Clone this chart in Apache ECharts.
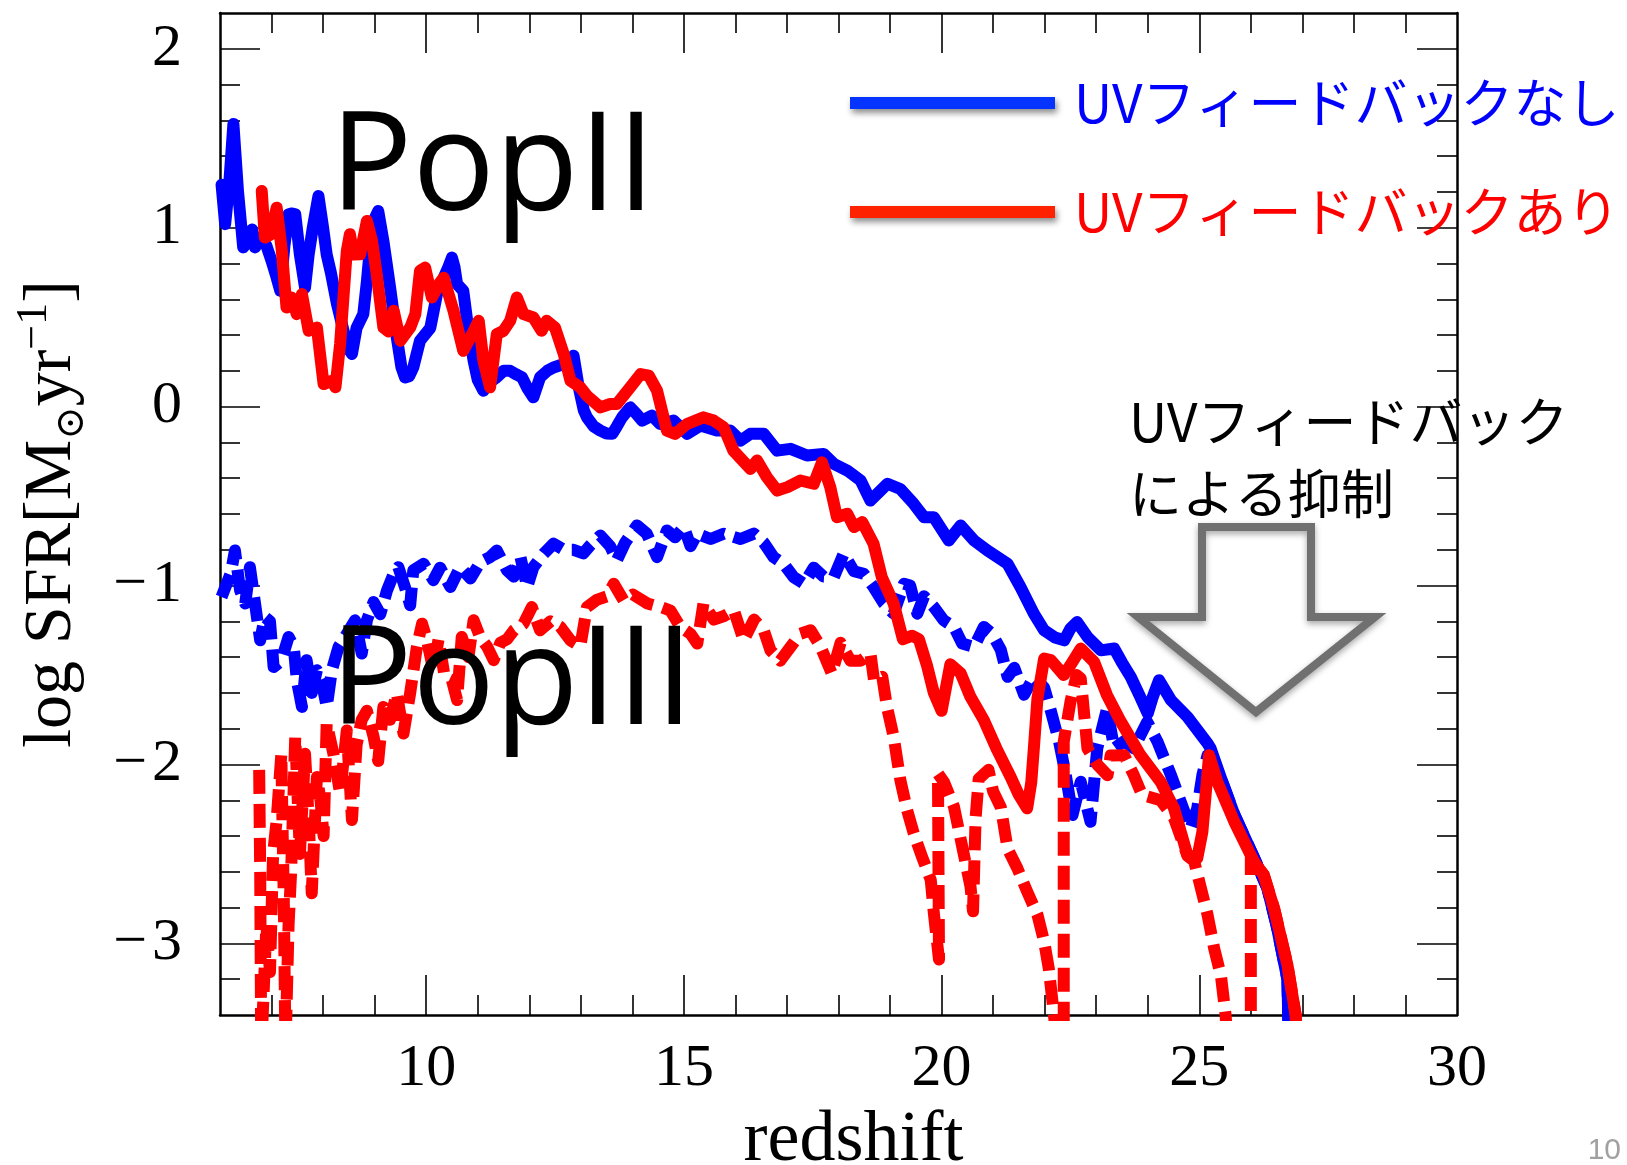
<!DOCTYPE html>
<html><head><meta charset="utf-8">
<script src="https://cdn.jsdelivr.net/npm/echarts@6/dist/echarts.min.js"></script>
<style>html,body{margin:0;padding:0;background:#fff}#c{width:1627px;height:1165px}</style>
</head><body><div id="c"></div>
<script>
// ---- data: [redshift, log SFR] ----
const popII_noUV = [[6.03,1.24],[6.10,1.02],[6.18,1.25],[6.26,1.58],[6.35,1.2],[6.45,0.89],[6.55,0.93],[6.62,0.99],[6.68,0.89],[6.78,0.945],[6.9,0.9],[7.0,0.815],[7.1,0.72],[7.17,0.647],[7.25,0.9],[7.33,1.075],[7.40,1.08],[7.46,1.075],[7.55,0.85],[7.65,0.666],[7.72,0.85],[7.80,1.0],[7.91,1.177],[8.0,1.0],[8.07,0.85],[8.15,0.75],[8.27,0.573],[8.40,0.42],[8.50,0.32],[8.56,0.294],[8.65,0.44],[8.78,0.517],[8.85,0.7],[8.91,0.889],[9.0,1.05],[9.07,1.094],[9.17,0.926],[9.30,0.666],[9.43,0.387],[9.52,0.22],[9.59,0.163],[9.67,0.17],[9.75,0.219],[9.88,0.368],[9.97,0.40],[10.08,0.44],[10.21,0.629],[10.34,0.72],[10.43,0.78],[10.50,0.833],[10.55,0.78],[10.60,0.685],[10.72,0.647],[10.80,0.47],[10.92,0.257],[11.0,0.15],[11.11,0.089],[11.2,0.13],[11.37,0.164],[11.50,0.2],[11.63,0.2],[11.75,0.18],[11.86,0.164],[11.97,0.1],[12.08,0.052],[12.21,0.164],[12.35,0.2],[12.47,0.219],[12.67,0.238],[12.80,0.26],[12.86,0.285],[12.96,0.108],[13.06,-0.022],[13.12,-0.06],[13.25,-0.11],[13.38,-0.134],[13.50,-0.15],[13.61,-0.152],[13.70,-0.11],[13.80,-0.06],[13.96,-0.004],[14.08,-0.04],[14.19,-0.078],[14.38,-0.05],[14.54,-0.097],[14.80,-0.078],[15.06,-0.152],[15.32,-0.106],[15.64,-0.134],[15.90,-0.134],[16.10,-0.19],[16.29,-0.152],[16.55,-0.152],[16.81,-0.246],[17.07,-0.236],[17.39,-0.273],[17.71,-0.264],[17.91,-0.32],[18.17,-0.357],[18.43,-0.413],[18.62,-0.525],[18.95,-0.431],[19.20,-0.46],[19.46,-0.543],[19.66,-0.618],[19.85,-0.618],[20.14,-0.748],[20.37,-0.664],[20.63,-0.748],[20.89,-0.804],[21.28,-0.878],[21.53,-1.008],[21.79,-1.157],[21.99,-1.25],[22.20,-1.29],[22.38,-1.306],[22.50,-1.24],[22.63,-1.204],[22.83,-1.287],[23.09,-1.362],[23.35,-1.352],[23.50,-1.43],[23.67,-1.51],[23.85,-1.62],[24.0,-1.715],[24.10,-1.62],[24.22,-1.529],[24.45,-1.64],[24.77,-1.734],[25.16,-1.882],[25.22,-1.91],[25.45,-2.1],[25.68,-2.28],[26.06,-2.52],[26.32,-2.69],[26.50,-2.9],[26.71,-3.2],[26.74,-3.6]];

const popII_UV = [[6.81,1.205],[6.87,0.945],[6.97,0.96],[7.10,1.112],[7.20,0.87],[7.29,0.554],[7.39,0.61],[7.49,0.517],[7.59,0.629],[7.72,0.424],[7.88,0.442],[8.01,0.126],[8.17,0.145],[8.24,0.108],[8.33,0.35],[8.46,0.87],[8.52,0.964],[8.59,0.85],[8.72,0.852],[8.85,1.038],[8.95,0.926],[9.04,0.74],[9.17,0.442],[9.27,0.42],[9.37,0.536],[9.50,0.368],[9.69,0.442],[9.79,0.517],[9.88,0.759],[9.98,0.777],[10.11,0.61],[10.27,0.694],[10.34,0.72],[10.53,0.536],[10.72,0.312],[10.89,0.405],[11.02,0.48],[11.11,0.257],[11.24,0.108],[11.37,0.405],[11.50,0.424],[11.63,0.48],[11.76,0.61],[11.89,0.517],[12.08,0.498],[12.24,0.424],[12.34,0.48],[12.50,0.442],[12.67,0.294],[12.80,0.145],[12.99,0.108],[13.12,0.061],[13.38,-0.004],[13.57,0.015],[13.70,0.015],[13.96,0.108],[14.16,0.182],[14.32,0.173],[14.48,0.089],[14.67,-0.134],[14.83,-0.152],[15.06,-0.097],[15.38,-0.06],[15.58,-0.078],[15.77,-0.115],[15.96,-0.246],[16.29,-0.348],[16.42,-0.301],[16.61,-0.394],[16.81,-0.469],[17.01,-0.45],[17.26,-0.413],[17.52,-0.431],[17.68,-0.311],[17.84,-0.45],[17.97,-0.618],[18.17,-0.599],[18.30,-0.673],[18.46,-0.645],[18.68,-0.766],[18.84,-0.953],[19.07,-1.10],[19.25,-1.30],[19.43,-1.28],[19.56,-1.30],[19.72,-1.45],[19.85,-1.60],[20.0,-1.70],[20.17,-1.44],[20.37,-1.49],[20.56,-1.622],[20.82,-1.752],[21.08,-1.92],[21.34,-2.07],[21.50,-2.17],[21.66,-2.245],[21.74,-2.1],[21.79,-1.91],[21.86,-1.631],[21.99,-1.408],[22.12,-1.417],[22.37,-1.50],[22.50,-1.445],[22.70,-1.352],[22.96,-1.427],[23.21,-1.613],[23.48,-1.762],[23.86,-1.948],[24.25,-2.097],[24.51,-2.245],[24.77,-2.506],[24.96,-2.524],[25.06,-2.376],[25.19,-1.948],[25.35,-2.097],[25.68,-2.32],[26.06,-2.543],[26.25,-2.617],[26.45,-2.803],[26.71,-3.12],[26.87,-3.4],[26.9,-3.6]];

const popIII_noUV = [[6.03,-1.064],[6.13,-0.99],[6.21,-0.93],[6.29,-0.804],[6.39,-1.027],[6.49,-1.10],[6.58,-0.897],[6.68,-1.101],[6.78,-1.306],[6.87,-1.176],[6.97,-1.20],[7.04,-1.455],[7.19,-1.42],[7.33,-1.287],[7.43,-1.34],[7.49,-1.529],[7.59,-1.678],[7.68,-1.417],[7.78,-1.60],[7.88,-1.473],[7.97,-1.53],[8.07,-1.678],[8.17,-1.473],[8.30,-1.343],[8.46,-1.27],[8.62,-1.194],[8.75,-1.38],[8.85,-1.194],[8.98,-1.092],[9.11,-1.16],[9.24,-1.027],[9.37,-0.934],[9.46,-0.897],[9.59,-1.01],[9.69,-1.11],[9.75,-0.915],[9.95,-0.878],[10.14,-0.97],[10.27,-0.90],[10.47,-1.008],[10.66,-0.897],[10.86,-0.96],[11.05,-0.869],[11.24,-0.841],[11.37,-0.804],[11.57,-0.915],[11.70,-0.95],[11.83,-0.841],[11.96,-1.008],[12.08,-0.897],[12.28,-0.822],[12.47,-0.766],[12.67,-0.80],[12.86,-0.80],[13.05,-0.82],[13.18,-0.776],[13.38,-0.72],[13.57,-0.78],[13.70,-0.859],[13.86,-0.76],[14.09,-0.664],[14.28,-0.71],[14.48,-0.841],[14.67,-0.692],[14.83,-0.73],[15.00,-0.673],[15.13,-0.78],[15.26,-0.71],[15.52,-0.74],[15.77,-0.71],[16.10,-0.74],[16.36,-0.71],[16.55,-0.76],[16.74,-0.841],[16.94,-0.88],[17.13,-0.953],[17.33,-0.99],[17.52,-0.90],[17.71,-0.95],[17.91,-0.953],[18.10,-0.822],[18.30,-0.92],[18.49,-0.934],[18.68,-1.008],[18.88,-1.10],[19.07,-1.157],[19.27,-0.99],[19.39,-1.0],[19.53,-1.157],[19.66,-1.06],[19.85,-1.12],[20.04,-1.194],[20.24,-1.231],[20.40,-1.324],[20.63,-1.343],[20.82,-1.231],[20.98,-1.27],[21.15,-1.36],[21.28,-1.51],[21.41,-1.46],[21.60,-1.61],[21.79,-1.51],[21.99,-1.57],[22.12,-1.70],[22.28,-1.873],[22.41,-2.059],[22.54,-2.282],[22.70,-2.097],[22.89,-2.32],[23.02,-1.91],[23.21,-1.687],[23.35,-1.91],[23.54,-1.87],[23.73,-1.91],[23.99,-1.762],[24.19,-1.873],[24.45,-2.059],[24.64,-2.208],[24.83,-2.357],[24.96,-2.245],[25.06,-2.059],[25.16,-1.948],[25.45,-2.1],[25.68,-2.28],[26.06,-2.52],[26.32,-2.69],[26.50,-2.9],[26.71,-3.2],[26.74,-3.6]];

const popIII_UV = [[6.76,-2.03],[6.78,-2.6],[6.80,-3.6],[6.90,-2.9],[6.97,-3.16],[7.03,-2.5],[7.10,-2.31],[7.19,-1.94],[7.24,-2.8],[7.27,-3.6],[7.33,-2.9],[7.38,-2.6],[7.46,-1.845],[7.55,-2.50],[7.65,-1.94],[7.72,-2.3],[7.78,-2.72],[7.88,-2.07],[7.95,-2.2],[8.01,-2.40],[8.07,-1.77],[8.20,-1.94],[8.33,-2.16],[8.46,-1.81],[8.56,-2.31],[8.65,-1.89],[8.75,-1.75],[8.85,-1.70],[8.98,-1.845],[9.07,-1.98],[9.17,-1.678],[9.30,-1.75],[9.43,-1.603],[9.56,-1.827],[9.69,-1.60],[9.82,-1.343],[9.92,-1.213],[10.01,-1.30],[10.14,-1.473],[10.24,-1.30],[10.36,-1.51],[10.50,-1.529],[10.60,-1.64],[10.69,-1.287],[10.82,-1.40],[10.92,-1.194],[11.05,-1.29],[11.18,-1.34],[11.31,-1.417],[11.44,-1.32],[11.57,-1.30],[11.70,-1.25],[11.89,-1.213],[12.05,-1.12],[12.21,-1.25],[12.41,-1.20],[12.60,-1.23],[12.80,-1.306],[12.99,-1.34],[13.12,-1.12],[13.31,-1.08],[13.51,-1.06],[13.64,-0.99],[13.83,-1.083],[14.01,-1.05],[14.29,-1.10],[14.55,-1.12],[14.74,-1.14],[14.93,-1.231],[15.13,-1.27],[15.26,-1.324],[15.38,-1.10],[15.58,-1.19],[15.78,-1.17],[15.97,-1.138],[16.16,-1.306],[16.36,-1.19],[16.55,-1.25],[16.68,-1.362],[16.87,-1.42],[17.07,-1.343],[17.26,-1.269],[17.46,-1.25],[17.65,-1.34],[17.87,-1.492],[18.04,-1.32],[18.23,-1.42],[18.43,-1.42],[18.62,-1.38],[18.69,-1.53],[18.85,-1.51],[18.94,-1.678],[19.07,-1.845],[19.20,-2.087],[19.33,-2.254],[19.46,-2.385],[19.62,-2.515],[19.79,-2.645],[19.85,-2.831],[19.95,-3.09],[19.93,-2.05],[20.05,-2.10],[20.24,-2.236],[20.43,-2.50],[20.56,-2.68],[20.61,-2.82],[20.66,-2.3],[20.72,-2.08],[20.91,-2.03],[21.0,-2.15],[21.15,-2.24],[21.28,-2.47],[21.47,-2.58],[21.66,-2.71],[21.86,-2.84],[21.99,-2.99],[22.08,-3.14],[22.18,-3.4],[22.25,-3.6],[22.37,-3.6],[22.37,-1.873],[22.50,-1.65],[22.62,-1.50],[22.70,-1.52],[22.83,-1.91],[23.02,-2.0],[23.22,-2.06],[23.28,-1.95],[23.54,-1.948],[23.73,-2.06],[23.89,-2.17],[24.25,-2.2],[24.51,-2.3],[24.77,-2.51],[24.90,-2.54],[25.03,-2.69],[25.16,-2.84],[25.29,-3.03],[25.42,-3.18],[25.51,-3.4],[25.56,-3.6],[26.0,-3.6],[26.0,-2.52],[26.25,-2.617],[26.45,-2.803],[26.71,-3.12],[26.87,-3.4],[26.9,-3.6]];

// ---- axis ticks / labels ----
const xTickLabels = [10, 15, 20, 25, 30];
const xMajorTicks = [10, 15, 20, 25];
const xMinorTicks = [7,8,9,11,12,13,14,16,17,18,19,21,22,23,24,26,27,28,29];
const yTickLabels = [-3, -2, -1, 0, 1, 2];
const yMinorTicks = [-3.2,-2.8,-2.6,-2.4,-2.2,-1.8,-1.6,-1.4,-1.2,-0.8,-0.6,-0.4,-0.2,0.2,0.4,0.6,0.8,1.2,1.4,1.6,1.8];
const legendNames = ['UVフィードバックなし', 'UVフィードバックあり'];

const X_MIN = 6, X_MAX = 30, Y_MIN = -3.4, Y_MAX = 2.2;
const serif = '"Liberation Serif", "DejaVu Serif", serif';
const jp = '"Noto Sans CJK JP", "Noto Sans", sans-serif';

function xAx(pos, ticks, len, showLine, labels) {
  return {
    type: 'value', min: X_MIN, max: X_MAX, position: pos, gridIndex: 0,
    axisLine: { show: showLine, onZero: false, lineStyle: { color: '#000', width: 2.5 } },
    axisTick: { show: true, inside: true, length: len, customValues: ticks, lineStyle: { color: '#000', width: 1.6 } },
    axisLabel: labels ? { show: true, customValues: labels, fontSize: 60, fontFamily: serif, color: '#000', margin: 24, lineHeight: 60 } : { show: false },
    splitLine: { show: false }, minorTick: { show: false }
  };
}
function yAx(pos, ticks, len, showLine, labels) {
  return {
    type: 'value', min: Y_MIN, max: Y_MAX, position: pos, gridIndex: 0,
    axisLine: { show: showLine, onZero: false, lineStyle: { color: '#000', width: 2.5 } },
    axisTick: { show: true, inside: true, length: len, customValues: ticks, lineStyle: { color: '#000', width: 1.6 } },
    axisLabel: labels ? { show: true, customValues: labels, fontSize: 60, fontFamily: serif, color: '#000', margin: 38,
      formatter: v => (v < 0 ? '\u2212\u200a' + (-v) : String(v)) } : { show: false },
    splitLine: { show: false }, minorTick: { show: false }
  };
}

const xMain = xAx('bottom', xMajorTicks, 40, true, xTickLabels);
xMain.name = 'redshift';
xMain.nameLocation = 'middle';
xMain.nameGap = 90;
xMain.nameTextStyle = { fontSize: 72, fontFamily: serif, color: '#000', lineHeight: 72, padding: [0, 0, 0, 30] };

const yMain = yAx('left', yTickLabels, 40, true, yTickLabels);
yMain.name = '{a|log SFR[M}{s|\u2299}{a|yr}{p|\u22121}{a|]}';
yMain.nameLocation = 'middle';
yMain.nameGap = 128;
yMain.nameTextStyle = {
  color: '#000',
  rich: {
    a: { fontSize: 68, fontFamily: serif, color: '#000', lineHeight: 80, verticalAlign: 'middle' },
    s: { fontSize: 40, fontFamily: serif, color: '#000', lineHeight: 54, verticalAlign: 'bottom' },
    p: { fontSize: 44, fontFamily: serif, color: '#000', lineHeight: 28, verticalAlign: 'top' }
  }
};

const base = { type: 'line', showSymbol: false, symbol: 'none', animation: false, xAxisIndex: 0, yAxisIndex: 0, clip: true };

const chart = echarts.init(document.getElementById('c'), null, { renderer: 'canvas' });
chart.setOption({
  backgroundColor: '#fff',
  animation: false,
  grid: { left: 220, top: 13, width: 1237, height: 1002, outerBoundsMode: 'none', containLabel: false },
  xAxis: [
    xMain,
    xAx('bottom', xMinorTicks, 20, false, null),
    xAx('top', xMajorTicks, 40, true, null),
    xAx('top', xMinorTicks, 20, false, null)
  ],
  yAxis: [
    yMain,
    yAx('left', yMinorTicks, 20, false, null),
    yAx('right', yTickLabels, 40, true, null),
    yAx('right', yMinorTicks, 20, false, null)
  ],
  legend: {
    show: true, orient: 'vertical', left: 845, top: 68, itemWidth: 205, itemHeight: 12, itemGap: 49,
    icon: 'rect', selectedMode: false,
    textStyle: { fontSize: 53, fontFamily: jp, lineHeight: 60, padding: [0, 0, 0, 14] },
    data: [
      { name: legendNames[0], itemStyle: { color: '#0533ff', shadowBlur: 6, shadowColor: 'rgba(0,0,0,0.45)', shadowOffsetX: 2, shadowOffsetY: 4 }, textStyle: { color: '#0000ff' } },
      { name: legendNames[1], itemStyle: { color: '#ff2200', shadowBlur: 6, shadowColor: 'rgba(0,0,0,0.45)', shadowOffsetX: 2, shadowOffsetY: 4 }, textStyle: { color: '#ff0000' } }
    ]
  },
  series: [
    Object.assign({}, base, { name: 'PopIII ' + legendNames[0], data: popIII_noUV, lineStyle: { color: '#0000ff', width: 12, type: [24, 10], cap: 'butt', join: 'round' }, itemStyle: { color: '#0000ff' } }),
    Object.assign({}, base, { name: legendNames[0], data: popII_noUV, lineStyle: { color: '#0000ff', width: 12, cap: 'round', join: 'round' }, itemStyle: { color: '#0000ff' } }),
    Object.assign({}, base, { name: 'PopIII ' + legendNames[1], data: popIII_UV, lineStyle: { color: '#ff0000', width: 12, type: [24, 10], cap: 'butt', join: 'round' }, itemStyle: { color: '#ff0000' } }),
    Object.assign({}, base, { name: legendNames[1], data: popII_UV, lineStyle: { color: '#ff0000', width: 12, cap: 'round', join: 'round' }, itemStyle: { color: '#ff0000' } })
  ],
  graphic: [
    { type: 'text', z: 100, x: 330, y: 171, style: { text: 'PopII', fontSize: 137, fontFamily: '"Open Sans", "Noto Sans", sans-serif', fill: '#000', align: 'left', verticalAlign: 'middle' } },
    { type: 'text', z: 100, x: 330, y: 685, style: { text: 'PopIII', fontSize: 137, fontFamily: '"Open Sans", "Noto Sans", sans-serif', fill: '#000', align: 'left', verticalAlign: 'middle' } },
    { type: 'text', z: 100, x: 1129, y: 386, style: { text: 'UVフィードバック\nによる抑制', fontSize: 53, fontFamily: jp, fill: '#000', lineHeight: 72, align: 'left', verticalAlign: 'top' } },
    { type: 'polygon', z: 100, shape: { points: [[1202,527],[1311,527],[1311,617],[1375,617],[1256,712],[1138,617],[1202,617]] },
      style: { fill: 'none', stroke: '#707070', lineWidth: 8, lineJoin: 'miter', shadowBlur: 6, shadowColor: 'rgba(0,0,0,0.35)', shadowOffsetY: 3 } },
    { type: 'text', z: 100, x: 1621, y: 1151, style: { text: '10', fontSize: 30, fontFamily: '"Liberation Sans Narrow", "Liberation Sans", sans-serif', fill: '#a0a0a0', align: 'right', verticalAlign: 'middle' } }
  ]
});
</script>
</body></html>
